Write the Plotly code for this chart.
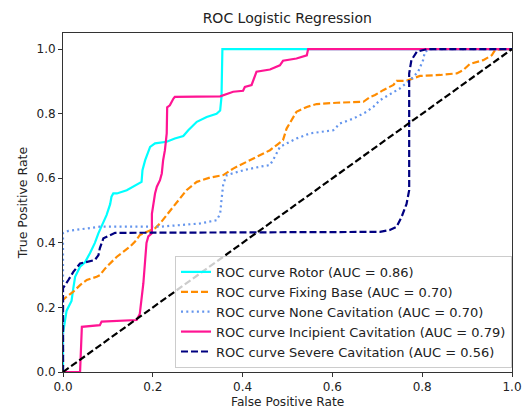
import plotly.graph_objects as go

# ---- data ----
rotor_fpr = [0, 0, 0.008, 0.019, 0.023, 0.027, 0.038, 0.049, 0.06, 0.071, 0.079, 0.086, 0.097, 0.105,
             0.108, 0.112, 0.12, 0.142, 0.164, 0.175, 0.177, 0.183, 0.194, 0.205, 0.231, 0.249, 0.268,
             0.279, 0.298, 0.32, 0.342, 0.35, 0.353, 0.355, 1.0]
rotor_tpr = [0, 0.12, 0.19, 0.22, 0.26, 0.295, 0.326, 0.34, 0.368, 0.40, 0.43, 0.45, 0.486, 0.52,
             0.543, 0.553, 0.553, 0.563, 0.579, 0.589, 0.625, 0.656, 0.697, 0.708, 0.713, 0.723, 0.731,
             0.749, 0.775, 0.79, 0.80, 0.81, 0.852, 1.0, 1.0]

fixing_fpr = [0, 0, 0.008, 0.023, 0.038, 0.053, 0.075, 0.082, 0.094, 0.105, 0.12, 0.134, 0.149, 0.16,
              0.171, 0.186, 0.205, 0.216, 0.231, 0.246, 0.261, 0.275, 0.298, 0.327, 0.357, 0.379, 0.409,
              0.439, 0.461, 0.476, 0.49, 0.498, 0.509, 0.52, 0.543, 0.565, 0.61, 0.669, 0.684, 0.695,
              0.713, 0.736, 0.743, 0.765, 0.795, 0.84, 0.877, 0.891, 0.906, 0.936, 0.955, 0.962, 0.98, 1.0]
fixing_tpr = [0, 0.223, 0.233, 0.249, 0.269, 0.285, 0.295, 0.30, 0.321, 0.336, 0.357, 0.372, 0.388, 0.403,
              0.424, 0.434, 0.445, 0.46, 0.486, 0.512, 0.538, 0.563, 0.589, 0.602, 0.61, 0.63, 0.651,
              0.672, 0.687, 0.703, 0.718, 0.754, 0.78, 0.806, 0.821, 0.83, 0.834, 0.837, 0.852, 0.858,
              0.873, 0.889, 0.902, 0.902, 0.917, 0.92, 0.925, 0.935, 0.954, 0.966, 0.981, 0.997, 1.0, 1.0]

none_fpr = [0, 0, 0.012, 0.082, 0.216, 0.305, 0.342, 0.35, 0.353, 0.357, 0.365, 0.402, 0.439, 0.461,
            0.472, 0.483, 0.498, 0.52, 0.55, 0.602, 0.617, 0.647, 0.676, 0.691, 0.706, 0.725, 0.75,
            0.773, 0.791, 0.802, 0.806, 0.817, 1.0]
none_tpr = [0, 0.43, 0.437, 0.45, 0.45, 0.46, 0.47, 0.49, 0.533, 0.584, 0.61, 0.625, 0.636, 0.641,
            0.667, 0.697, 0.708, 0.723, 0.739, 0.749, 0.77, 0.785, 0.806, 0.821, 0.842, 0.858, 0.878,
            0.904, 0.93, 0.966, 0.992, 1.0, 1.0]

incip_fpr = [0, 0.038, 0.042, 0.082, 0.086, 0.164, 0.171, 0.175, 0.179, 0.183, 0.186, 0.19, 0.198, 0.198,
             0.201, 0.205, 0.209, 0.216, 0.22, 0.223, 0.227, 0.231, 0.232, 0.238, 0.246, 0.249, 0.35,
             0.365, 0.379, 0.401, 0.405, 0.42, 0.424, 0.431, 0.461, 0.483, 0.49, 0.52, 0.543, 0.546, 1.0]
incip_tpr = [0, 0, 0.14, 0.145, 0.156, 0.161, 0.18, 0.223, 0.275, 0.347, 0.40, 0.42, 0.43, 0.49,
             0.52, 0.553, 0.574, 0.594, 0.615, 0.656, 0.687, 0.739, 0.82, 0.826, 0.847, 0.852, 0.854,
             0.861, 0.868, 0.871, 0.883, 0.889, 0.904, 0.93, 0.937, 0.95, 0.964, 0.971, 0.981, 1.0, 1.0]

severe_fpr = [0, 0, 0.012, 0.023, 0.038, 0.053, 0.071, 0.079, 0.082, 0.09, 0.105, 0.116, 0.706, 0.728,
              0.743, 0.754, 0.765, 0.771, 0.771, 0.776, 0.788, 0.81, 1.0]
severe_tpr = [0, 0.26, 0.285, 0.31, 0.336, 0.342, 0.347, 0.362, 0.383, 0.414, 0.424, 0.431, 0.434, 0.44,
              0.45, 0.48, 0.52, 0.563, 0.925, 0.966, 0.992, 1.0, 1.0]

diag = [0, 1]

names = ["ROC curve Rotor (AUC = 0.86)",
         "ROC curve Fixing Base (AUC = 0.70)",
         "ROC curve None Cavitation (AUC = 0.70)",
         "ROC curve Incipient Cavitation (AUC = 0.79)",
         "ROC curve Severe Cavitation (AUC = 0.56)"]

series = [(rotor_fpr, rotor_tpr, "#00FFFF", "solid"),
          (fixing_fpr, fixing_tpr, "#FF8C00", "7px,3px"),
          (none_fpr, none_tpr, "#6495ED", "2px,3.3px"),
          (incip_fpr, incip_tpr, "#FF1493", "solid"),
          (severe_fpr, severe_tpr, "#000080", "7px,3px")]

FONT = "DejaVu Sans"
fig = go.Figure()
for (x, y, c, d), n in zip(series, names):
    fig.add_trace(go.Scatter(x=x, y=y, mode="lines", name=n,
                             line=dict(color=c, width=2.2, dash=d)))
fig.add_trace(go.Scatter(x=diag, y=diag, mode="lines", showlegend=False,
                         line=dict(color="black", width=2.2, dash="7px,3px")))

axis_common = dict(showgrid=False, zeroline=False, showline=True, mirror=True,
                   linecolor="#333", linewidth=1, ticks="outside", ticklen=4,
                   tickcolor="#333", tickwidth=1, automargin=False,
                   tickfont=dict(family=FONT, size=12, color="#222"),
                   tickformat=".1f")

fig.update_layout(
    width=532, height=409,
    margin=dict(l=63, r=20, t=33, b=37),
    paper_bgcolor="white", plot_bgcolor="white",
    title=dict(text="ROC Logistic Regression", x=0.54, xanchor="center",
               y=1 - 18 / 409, yanchor="middle", yref="container",
               font=dict(family=FONT, size=14, color="#222")),
    xaxis=dict(range=[0, 1], dtick=0.2, **axis_common),
    yaxis=dict(range=[0, 1.05], dtick=0.2, **axis_common,
               title=dict(text="True Positive Rate", standoff=6,
                          font=dict(family=FONT, size=12.5, color="#222"))),
    annotations=[dict(text="False Positive Rate", xref="paper", yref="paper",
                      x=0.5, y=(372 - 401.5) / 339, xanchor="center", yanchor="middle",
                      showarrow=False, font=dict(family=FONT, size=12.2, color="#222"))],
    legend=dict(x=1.0, y=0.012, xanchor="right", yanchor="bottom",
                bgcolor="rgba(255,255,255,0.8)", bordercolor="#ccc", borderwidth=1,
                font=dict(family=FONT, size=13, color="#222"),
                itemwidth=30, tracegroupgap=0),
    showlegend=True,
)

fig.write_html("out.html")
